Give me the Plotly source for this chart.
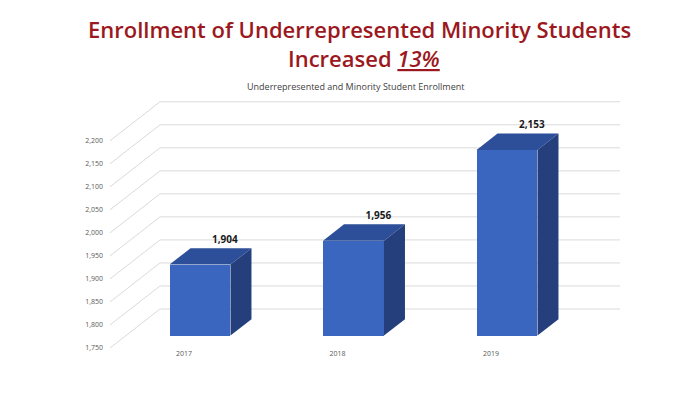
import plotly.graph_objects as go

# ---- data ----
years = ["2017", "2018", "2019"]
enrollment = [1904, 1956, 2153]
y_ticks = [1750, 1800, 1850, 1900, 1950, 2000, 2050, 2100, 2150, 2200]
base_value = 1750

title_line1 = "Enrollment of Underrepresented Minority Students"
title_line2 = "Increased <i><u>13%</u></i>"
subtitle = "Underrepresented and Minority Student Enrollment"

# ---- projection parameters (oblique "3D" look) ----
DX = 0.3257      # full depth shift in x units
DY = 84.7        # full depth shift in value units
D_FRONT = 0.32   # bar front plane depth
D_BACK = 0.74    # bar back plane depth
BAR_W = 0.397
X_LEFT, X_RIGHT = -0.482, 2.515

FRONT_C = "#3A66C0"
TOP_C = "#2D4F99"
SIDE_C = "#243F7C"
GRID_C = "#DADADA"

fig = go.Figure()

# gridlines: left wall diagonals + back wall horizontals
shapes = []
for t in y_ticks:
    shapes.append(dict(type="line", xref="x", yref="y", layer="below",
                       x0=X_LEFT, y0=t, x1=X_LEFT + DX, y1=t + DY,
                       line=dict(color=GRID_C, width=1)))
    shapes.append(dict(type="line", xref="x", yref="y", layer="below",
                       x0=X_LEFT + DX, y0=t + DY, x1=X_RIGHT + DX, y1=t + DY,
                       line=dict(color=GRID_C, width=1)))

# front faces
xs_front = [i + D_FRONT * DX for i in range(len(years))]
fig.add_trace(go.Bar(
    x=xs_front,
    y=[v - base_value for v in enrollment],
    base=[base_value + D_FRONT * DY] * len(years),
    width=BAR_W,
    marker=dict(color=FRONT_C, line=dict(width=0)),
    hoverinfo="skip", showlegend=False,
))

# top and side faces
dd = (D_BACK - D_FRONT)
for i, v in enumerate(enrollment):
    xl = xs_front[i] - BAR_W / 2
    xr = xs_front[i] + BAR_W / 2
    yt = v + D_FRONT * DY
    yb = base_value + D_FRONT * DY
    sx, sy = dd * DX, dd * DY
    fig.add_trace(go.Scatter(
        x=[xl, xr, xr + sx, xl + sx, xl],
        y=[yt, yt, yt + sy, yt + sy, yt],
        fill="toself", fillcolor=TOP_C, mode="lines",
        line=dict(width=0, color=TOP_C), hoverinfo="skip", showlegend=False))
    fig.add_trace(go.Scatter(
        x=[xr, xr + sx, xr + sx, xr, xr],
        y=[yt, yt + sy, yb + sy, yb, yt],
        fill="toself", fillcolor=SIDE_C, mode="lines",
        line=dict(width=0, color=SIDE_C), hoverinfo="skip", showlegend=False))

# value labels
fig.add_trace(go.Scatter(
    x=[i + D_BACK * DX + 0.025 for i in range(len(years))],
    y=[v + D_BACK * DY + 6 for v in enrollment],
    text=[f"{v:,}" for v in enrollment],
    mode="text", textposition="top center",
    textfont=dict(family="Open Sans", size=10, color="#1A1A1A", weight="bold"),
    hoverinfo="skip", showlegend=False))

# page body has an 8px margin: figure origin sits at window (8, 8)
OFF = 8
W, H = 687 - 2 * OFF, 393 - 2 * OFF
# plot area in window pixels: x 110..640, y 95..348
ml = 110 - OFF
mr = W - (640 - OFF)
mt = 95 - OFF
mb = H - (348 - OFF)
pw, ph = W - ml - mr, H - mt - mb


def px_x(p):
    return (p - OFF - ml) / pw


def px_y(p):
    return (H - mb - (p - OFF)) / ph


TITLE_FONT = dict(family="Open Sans", size=22, color="#9C1820", weight=600)
annotations = [
    dict(text=title_line1, x=px_x(359), y=px_y(29), xref="paper", yref="paper",
         showarrow=False, xanchor="center", yanchor="middle", font=TITLE_FONT),
    dict(text=title_line2, x=px_x(364), y=px_y(58), xref="paper", yref="paper",
         showarrow=False, xanchor="center", yanchor="middle", font=TITLE_FONT),
    dict(text=subtitle, x=px_x(356), y=px_y(86), xref="paper", yref="paper",
         showarrow=False, xanchor="center", yanchor="middle",
         font=dict(family="Open Sans", size=9, color="#404040")),
]

x_min = (110 - 184) / 153.5
x_max = (640 - 184) / 153.5
y_max = base_value + ph / 0.4605

fig.update_layout(
    width=W, height=H,
    margin=dict(l=ml, r=mr, t=mt, b=mb),
    paper_bgcolor="white", plot_bgcolor="white",
    shapes=shapes, annotations=annotations,
    bargap=0,
    xaxis=dict(range=[x_min, x_max], tickvals=list(range(len(years))), ticktext=years,
               showgrid=False, zeroline=False, showline=False, ticks="",
               tickfont=dict(family="Open Sans", size=7, color="#595959")),
    yaxis=dict(range=[base_value, y_max], tickvals=y_ticks, tickformat=",",
               showgrid=False, zeroline=False, showline=False, ticks="",
               ticklabelstandoff=6,
               tickfont=dict(family="Open Sans", size=7, color="#595959")),
)

fig.write_html("out.html")
